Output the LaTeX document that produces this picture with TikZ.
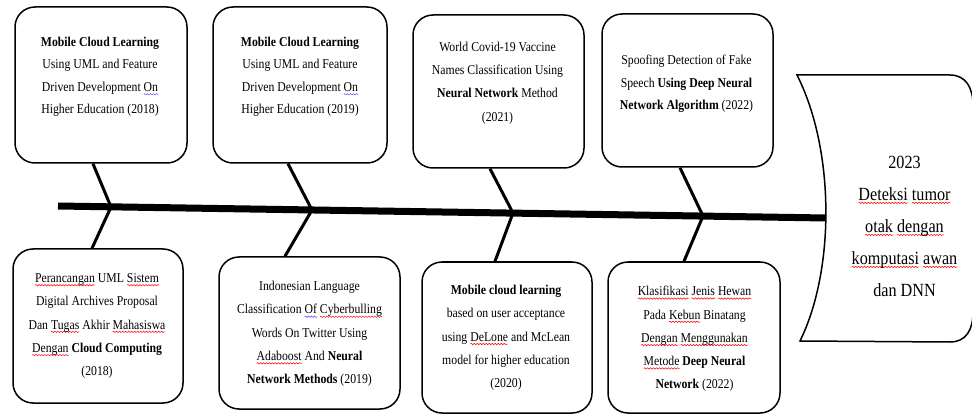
\documentclass[tikz,border=0pt]{standalone}
\usepackage{fontspec}
\setmainfont{Liberation Serif}[FakeStretch=0.87]
\usetikzlibrary{calc,decorations.pathmorphing}

% proofing-style wavy underlines under single words
\newsavebox\wordbox
\newlength\wordwd
\newcommand\wavemark[2]{\sbox\wordbox{#2}\setlength\wordwd{\wd\wordbox}%
  \rlap{\tikz[overlay,baseline=0pt]\draw[#1,line width=0.5pt,decorate,
    decoration={snake,amplitude=0.7pt,segment length=3pt}]
    (0pt,-2.8pt) -- (\wordwd,-2.8pt);}\usebox\wordbox}
\newcommand\spell[1]{\wavemark{red}{#1}}
\newcommand\gram[1]{\wavemark{blue!70}{#1}}

\begin{document}
\begin{tikzpicture}[x=1pt,y=-1pt,
  card/.style={draw, line width=1.5pt, rounded corners=20pt, inner sep=0pt},
  txt/.style={align=center, font=\fontsize{13.5}{22.5}\selectfont, inner sep=0pt},
  txtwide/.style={align=center, font=\fontsize{13.5}{23.3}\selectfont, inner sep=0pt},
  goaltxt/.style={align=center, font=\fontsize{18.6}{32}\selectfont, inner sep=0pt},
  branch/.style={line width=3pt, line join=round},
  spine/.style={line width=7pt}]
\useasboundingbox (0,0) rectangle (972,414);
\clip (0,0) rectangle (972,414);

% upper row of cards
\node[card, minimum width=172pt, minimum height=156pt] (b1) at (101,85) {};
\node[card, minimum width=174pt, minimum height=156pt] (b2) at (300,85) {};
\node[card, minimum width=171pt, minimum height=153pt] (b3) at (498.5,91.5) {};
\node[card, minimum width=171pt, minimum height=153pt] (b4) at (687.5,90.5) {};
% lower row of cards
\node[card, minimum width=170pt, minimum height=154pt] (b5) at (98,326) {};
\node[card, minimum width=181pt, minimum height=152pt] (b6) at (309.5,333) {};
\node[card, minimum width=170pt, minimum height=151pt] (b7) at (507,337.5) {};
\node[card, minimum width=172pt, minimum height=151pt] (b8) at (694,337.5) {};

% card texts
\node[txt] (t1) at (100,77) {\textbf{Mobile Cloud Learning}\\Using UML and Feature\\Driven Development \gram{On}\\Higher Education (2018)};
\node[txt] (t2) at (300,77) {\textbf{Mobile Cloud Learning}\\Using UML and Feature\\Driven Development \gram{On}\\Higher Education (2019)};
\node[txtwide] (t3) at (497.5,83) {World Covid-19 Vaccine\\Names Classification Using\\\textbf{Neural Network} Method\\(2021)};
\node[txt] (t4) at (686.5,84) {Spoofing Detection of Fake\\Speech \textbf{Using Deep Neural}\\\textbf{Network Algorithm} (2022)};
\node[txtwide] (t5) at (97,326) {\spell{Perancangan} UML \spell{Sistem}\\Digital Archives Proposal\\Dan \spell{Tugas} Akhir \spell{Mahasiswa}\\\spell{Dengan} \textbf{Cloud Computing}\\(2018)};
\node[txtwide] (t6) at (309.5,334) {Indonesian Language\\Classification \gram{Of} \spell{Cyberbulling}\\Words On Twitter Using\\\spell{Adaboost} And \textbf{Neural}\\\textbf{Network Methods} (2019)};
\node[txtwide] (t7) at (506,338) {\textbf{Mobile cloud learning}\\based on user acceptance\\using \spell{DeLone} and McLean\\model for higher education\\(2020)};
\node[txtwide] (t8) at (694.5,339) {\spell{Klasifikasi} \spell{Jenis} \spell{Hewan}\\Pada \spell{Kebun} Binatang\\\spell{Dengan} \spell{Menggunakan}\\\spell{Metode} \textbf{Deep Neural}\\\textbf{Network} (2022)};

% goal shape at the head of the spine
\draw[line width=1.5pt] (797,75) -- (950,75)
  .. controls (966,75) and (973,88) .. (973,105) -- (973,312)
  .. controls (973,330) and (966,342) .. (950,342) -- (800,341)
  .. controls (835,270) and (835,150) .. (797,75) -- cycle;
\node[goaltxt] (goal) at (904.5,226) {2023\\\spell{Deteksi} \spell{tumor}\\\spell{otak} \spell{dengan}\\\spell{komputasi} \spell{awan}\\dan DNN};

% spine
\coordinate (s0) at (58,206);
\coordinate (s1) at (826,218);
\draw[spine] (s0) -- (s1);

% junctions on the spine
\coordinate (j1) at (111,207);
\coordinate (j2) at (312,210);
\coordinate (j3) at (513,213);
\coordinate (j4) at (703,216);

% branches
\draw[branch] ([xshift=-8pt]b1.south) -- (j1) -- ([xshift=-6pt]b5.north);
\draw[branch] ([xshift=-12pt]b2.south) -- (j2) -- ([xshift=-24.5pt]b6.north);
\draw[branch] ([xshift=-8.5pt]b3.south) -- (j3) -- ([xshift=-12pt]b7.north);
\draw[branch] ([xshift=-7.5pt]b4.south) -- (j4) -- ([xshift=-10pt]b8.north);
\end{tikzpicture}
\end{document}
